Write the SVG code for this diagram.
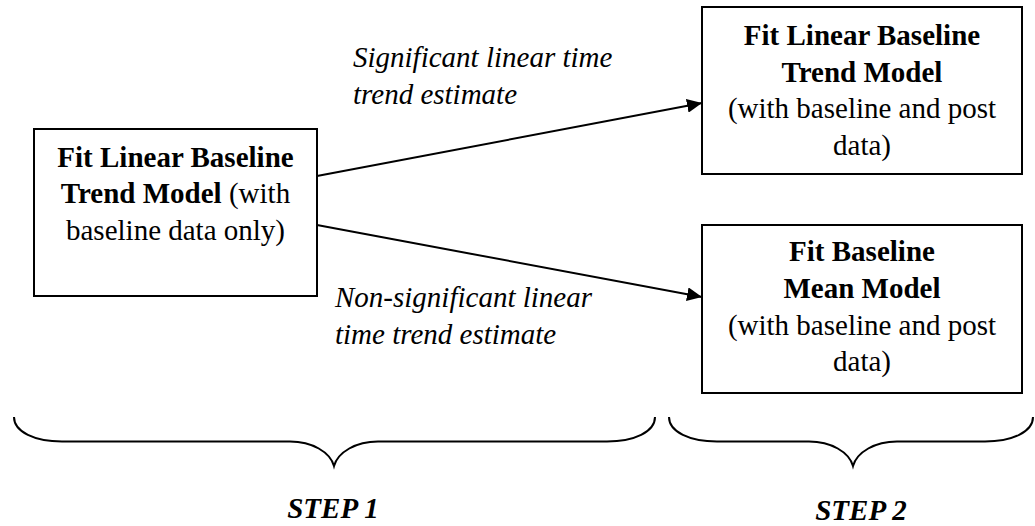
<svg xmlns="http://www.w3.org/2000/svg" width="1035" height="526" viewBox="0 0 1035 526">
  <style>
    .box { fill: #ffffff; stroke: #000000; stroke-width: 2; }
    .txt { font-family: "Liberation Serif", "Times New Roman", serif; font-size: 29px; fill: #000000; }
    .c { text-anchor: middle; }
    .b { font-weight: bold; }
    .i { font-style: italic; }
    .link { stroke: #000000; stroke-width: 2; fill: none; }
    .brace { stroke: #000000; stroke-width: 2; fill: none; }
  </style>
  <defs>
    <marker id="arrow" markerUnits="userSpaceOnUse" markerWidth="16" markerHeight="14" refX="15" refY="7" orient="auto">
      <path d="M0,0 L15,7 L0,14 z" fill="#000000"/>
    </marker>
  </defs>

  <rect width="1035" height="526" fill="#ffffff"/>

  <!-- connectors -->
  <g id="connectors">
    <line class="link" x1="317" y1="176" x2="702" y2="103" marker-end="url(#arrow)"/>
    <line class="link" x1="317" y1="225" x2="702" y2="297" marker-end="url(#arrow)"/>
    <text class="txt i" x="353" y="67">Significant linear time</text>
    <text class="txt i" x="353" y="104">trend estimate</text>
    <text class="txt i" x="335" y="307">Non-significant linear</text>
    <text class="txt i" x="335" y="344">time trend estimate</text>
  </g>

  <!-- step 1 node -->
  <g id="node-baseline-trend">
    <rect class="box" x="34" y="129" width="283" height="167"/>
    <text class="txt c b" x="175.5" y="167">Fit Linear Baseline</text>
    <text class="txt c" x="175.5" y="203"><tspan class="b">Trend Model</tspan> (with</text>
    <text class="txt c" x="175.5" y="240">baseline data only)</text>
  </g>

  <!-- step 2 nodes -->
  <g id="node-linear-trend-post">
    <rect class="box" x="702" y="7" width="320" height="167"/>
    <text class="txt c b" x="862" y="45">Fit Linear Baseline</text>
    <text class="txt c b" x="862" y="82">Trend Model</text>
    <text class="txt c" x="862" y="118">(with baseline and post</text>
    <text class="txt c" x="862" y="155">data)</text>
  </g>

  <g id="node-mean-post">
    <rect class="box" x="702" y="225" width="320" height="168"/>
    <text class="txt c b" x="862" y="261">Fit Baseline</text>
    <text class="txt c b" x="862" y="298">Mean Model</text>
    <text class="txt c" x="862" y="335">(with baseline and post</text>
    <text class="txt c" x="862" y="371">data)</text>
  </g>

  <!-- step braces -->
  <g id="step-1">
    <path class="brace" d="M14,417 C14,432 35,441.5 62,441.5 L290,441.5 C312,441.5 330,452 334,466 C338,452 356,441.5 378,441.5 L607,441.5 C634,441.5 655,432 655,417"/>
    <text class="txt c b i" x="333" y="518">STEP 1</text>
  </g>

  <g id="step-2">
    <path class="brace" d="M669,417 C669,432 690,441.5 717,441.5 L809,441.5 C831,441.5 849,452 853,466 C857,452 875,441.5 897,441.5 L985,441.5 C1012,441.5 1033,432 1033,417"/>
    <text class="txt c b i" x="861" y="520">STEP 2</text>
  </g>
</svg>
